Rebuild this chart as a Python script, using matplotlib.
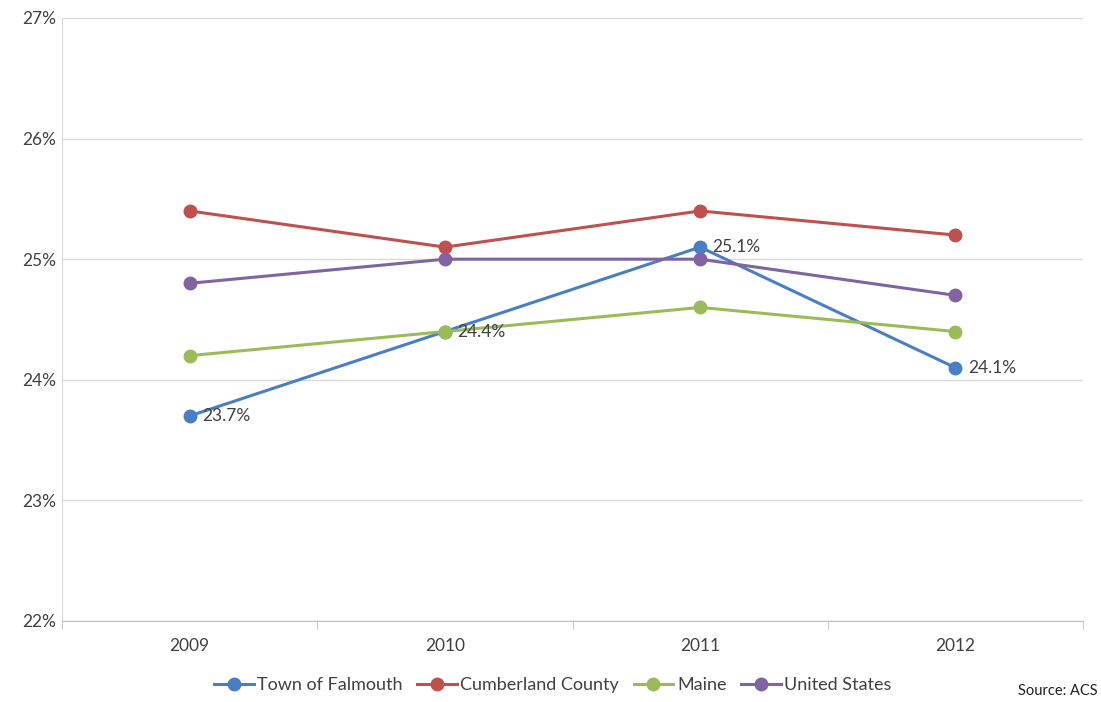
import matplotlib.pyplot as plt
from matplotlib.ticker import FuncFormatter, FixedLocator

plt.rcParams['font.family'] = ['Lato', 'DejaVu Sans']

years = ['2009', '2010', '2011', '2012']
falmouth = [23.7, 24.4, 25.1, 24.1]
cumberland = [25.4, 25.1, 25.4, 25.2]
maine = [24.2, 24.4, 24.6, 24.4]
us = [24.8, 25.0, 25.0, 24.7]

series = [
    ('Town of Falmouth', falmouth, '#4a7ec3'),
    ('Cumberland County', cumberland, '#c0504d'),
    ('Maine', maine, '#9bbb59'),
    ('United States', us, '#8064a2'),
]

fig = plt.figure(figsize=(11.01, 7.02), dpi=100)
ax = fig.add_axes([0.0563, 0.1154, 0.9274, 0.859])

x = list(range(len(years)))
for name, vals, col in series:
    ax.plot(x, vals, color=col, lw=2.2, marker='o', ms=9, label=name)

# value labels on the Falmouth series
for xi, v in zip(x, falmouth):
    ax.annotate(f'{v:.1f}%', (xi, v), xytext=(9, 0), textcoords='offset points',
                va='center', ha='left', fontsize=12.5, color='#404040')

ax.set_xlim(-0.5, 3.5)
ax.set_ylim(22, 27)
ax.set_yticks(range(22, 28))
ax.yaxis.set_major_formatter(FuncFormatter(lambda v, p: f'{v:.0f}%'))
ax.set_xticks(x)
ax.set_xticklabels(years)
ax.xaxis.set_minor_locator(FixedLocator([-0.5, 0.5, 1.5, 2.5, 3.5]))
ax.tick_params(axis='x', which='major', length=0, pad=12, labelsize=12.5, labelcolor='#404040')
ax.tick_params(axis='x', which='minor', length=6, color='#bfbfbf', direction='out')
ax.tick_params(axis='y', length=0, pad=4, labelsize=12.5, labelcolor='#404040')

ax.grid(axis='y', color='#d9d9d9', lw=1)
ax.set_axisbelow(True)
for s in ['top', 'right']:
    ax.spines[s].set_visible(False)
ax.spines['left'].set_color('#d9d9d9')
ax.spines['bottom'].set_color('#bfbfbf')

fig.legend(loc='center', bbox_to_anchor=(0.502, 0.024), ncol=4, frameon=False,
           fontsize=13, handlelength=2.2, columnspacing=0.8, handletextpad=0.2,
           labelcolor='#404040')
fig.text(0.997, 0.005, 'Source: ACS', ha='right', va='bottom', fontsize=10.5, color='#202020')

fig.savefig('out.png', dpi=100)
